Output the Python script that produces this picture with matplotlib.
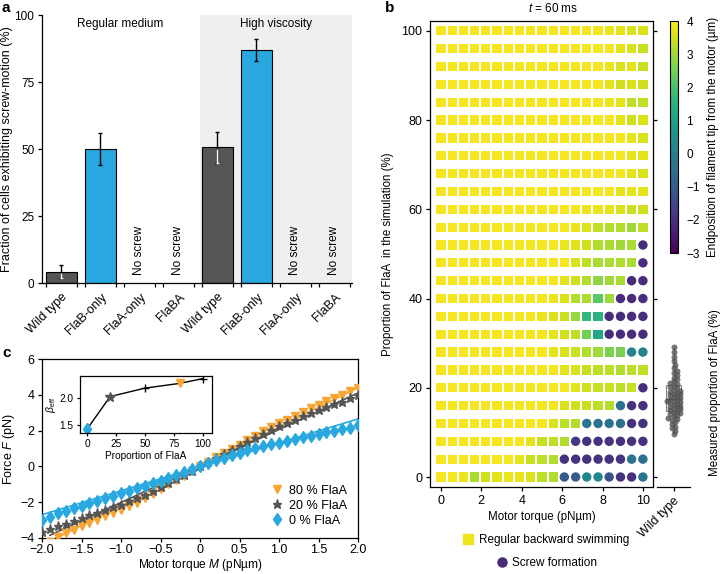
import numpy as np
import matplotlib.pyplot as plt
from matplotlib.lines import Line2D
from matplotlib import ticker

plt.rcParams['font.family'] = ['Liberation Sans', 'DejaVu Sans']
plt.rcParams['font.size'] = 9
plt.rcParams['mathtext.fontset'] = 'custom'
plt.rcParams['mathtext.rm'] = 'Liberation Sans'
plt.rcParams['mathtext.it'] = 'Liberation Sans:italic'
plt.rcParams['axes.linewidth'] = 0.9
plt.rcParams['xtick.major.width'] = 0.9
plt.rcParams['ytick.major.width'] = 0.9
plt.rcParams['xtick.major.size'] = 3
plt.rcParams['ytick.major.size'] = 3
plt.rcParams['xtick.major.pad'] = 2.5
plt.rcParams['ytick.major.pad'] = 2.5

# ---- panel a data
strains = ['Wild type', 'FlaB-only', 'FlaA-only', 'FlaBA',
           'Wild type', 'FlaB-only', 'FlaA-only', 'FlaBA']
screw_pct = [4.2, 50.1, np.nan, np.nan, 50.6, 87.0, np.nan, np.nan]
screw_err = [2.5, 5.9, np.nan, np.nan, 5.8, 4.0, np.nan, np.nan]
bar_cols = ['#555555', '#29a8e0', None, None, '#555555', '#29a8e0', None, None]

# ---- panel b data (rows from 100 % FlaA down to 0 %)
torque_sim = [0.0, 0.56, 1.11, 1.67, 2.22, 2.78, 3.33, 3.89, 4.44, 5.0,
              5.56, 6.11, 6.67, 7.22, 7.78, 8.33, 8.89, 9.44, 10.0]
flaA_sim = [100, 96, 92, 88, 84, 80, 76, 72, 68, 64, 60, 56, 52,
            48, 44, 40, 36, 32, 28, 24, 20, 16, 12, 8, 4, 0]
endpos = [
    [3.9, 3.9, 3.9, 3.9, 3.9, 3.9, 3.9, 3.9, 3.9, 3.9, 3.9, 3.9, 3.9, 3.9, 3.9, 3.8, 3.7, 3.6, 3.6],
    [3.9, 3.9, 3.9, 3.9, 3.9, 3.9, 3.9, 3.9, 3.9, 3.9, 3.9, 3.9, 3.9, 3.9, 3.9, 3.9, 3.7, 3.6, 3.4],
    [3.9, 3.9, 3.9, 3.9, 3.9, 3.9, 3.9, 3.9, 3.9, 3.9, 3.9, 3.9, 3.9, 3.9, 3.9, 3.8, 3.6, 3.7, 3.4],
    [3.9, 3.9, 3.9, 3.9, 3.9, 3.9, 3.9, 3.9, 3.9, 3.9, 3.9, 3.9, 3.9, 3.9, 3.9, 3.7, 3.5, 3.6, 3.5],
    [3.9, 3.9, 3.9, 3.9, 3.9, 3.9, 3.9, 3.9, 3.9, 3.9, 3.9, 3.9, 3.9, 3.9, 3.9, 3.8, 3.7, 3.3, 3.3],
    [3.9, 3.9, 3.9, 3.9, 3.9, 3.9, 3.9, 3.9, 3.9, 3.9, 3.9, 3.9, 3.9, 3.9, 3.9, 3.9, 3.7, 3.5, 3.6],
    [3.9, 3.9, 3.9, 3.9, 3.9, 3.9, 3.9, 3.9, 3.9, 3.9, 3.9, 3.9, 3.9, 3.9, 3.9, 3.9, 3.9, 3.7, 3.6],
    [3.9, 3.9, 3.9, 3.9, 3.9, 3.9, 3.9, 3.9, 3.9, 3.9, 3.9, 3.9, 3.9, 3.9, 3.9, 3.9, 3.9, 3.7, 3.7],
    [3.9, 3.9, 3.9, 3.9, 3.9, 3.9, 3.9, 3.9, 3.9, 3.9, 3.9, 3.9, 3.9, 3.9, 3.9, 3.9, 3.9, 3.7, 3.6],
    [3.9, 3.9, 3.9, 3.9, 3.9, 3.9, 3.9, 3.9, 3.9, 3.9, 3.9, 3.9, 3.9, 3.9, 3.9, 3.9, 3.7, 3.7, 3.7],
    [3.9, 3.9, 3.9, 3.9, 3.9, 3.9, 3.9, 3.9, 3.9, 3.9, 3.9, 3.9, 3.9, 3.8, 3.8, 3.7, 3.6, 3.4, 3.5],
    [3.9, 3.9, 3.9, 3.9, 3.9, 3.9, 3.9, 3.9, 3.9, 3.9, 3.9, 3.9, 3.8, 3.6, 3.3, 3.2, 3.2, 3.0, 3.3],
    [3.9, 3.9, 3.9, 3.9, 3.9, 3.9, 3.9, 3.9, 3.9, 3.9, 3.9, 3.8, 3.7, 3.5, 3.2, 3.1, 3.0, 3.1, -2.1],
    [3.9, 3.9, 3.9, 3.9, 3.9, 3.9, 3.9, 3.9, 3.9, 3.9, 3.9, 3.9, 3.6, 3.3, 3.1, 3.1, 3.2, 3.1, -2.1],
    [3.9, 3.9, 3.9, 3.9, 3.9, 3.9, 3.9, 3.9, 3.9, 3.9, 3.9, 3.7, 3.5, 3.2, 2.8, 3.0, 3.1, -2.1, -2.1],
    [3.9, 3.9, 3.9, 3.9, 3.9, 3.9, 3.9, 3.9, 3.9, 3.9, 3.8, 3.6, 3.2, 3.1, 2.2, 3.0, -2.1, -2.1, -2.1],
    [3.9, 3.9, 3.9, 3.9, 3.9, 3.9, 3.9, 3.9, 3.9, 3.8, 3.6, 3.4, 2.9, 1.6, 1.5, -2.1, -2.1, -2.1, -2.1],
    [3.9, 3.9, 3.9, 3.9, 3.9, 3.9, 3.9, 3.9, 3.9, 3.9, 3.7, 3.5, 3.3, 2.5, 1.2, -2.1, -2.1, -2.1, -2.1],
    [3.9, 3.9, 3.9, 3.9, 3.9, 3.9, 3.9, 3.9, 3.9, 3.9, 3.7, 3.6, 3.4, 3.2, 3.0, 2.6, 2.6, 0.1, 0.1],
    [3.9, 3.9, 3.9, 3.9, 3.9, 3.9, 3.9, 3.9, 3.9, 3.9, 3.9, 3.7, 3.6, 3.4, 3.3, 3.3, 3.2, 3.3, 3.3],
    [3.9, 3.9, 3.9, 3.9, 3.9, 3.9, 3.9, 3.9, 3.9, 3.9, 3.9, 3.9, 3.7, 3.5, 3.4, 3.4, 3.3, 3.4, -2.1],
    [3.9, 3.9, 3.9, 3.9, 3.9, 3.9, 3.9, 3.9, 3.9, 3.9, 3.9, 3.6, 3.5, 3.4, 3.3, 3.2, -0.4, -2.0, -2.0],
    [3.9, 3.9, 3.9, 3.9, 3.9, 3.9, 3.9, 3.9, 3.9, 3.9, 3.6, 3.3, 3.2, -0.4, -0.4, -0.4, -0.4, -2.0, -2.0],
    [3.9, 3.9, 3.9, 3.9, 3.9, 3.9, 3.9, 3.9, 3.7, 3.4, 3.3, 3.2, -1.8, -2.0, -2.0, -2.0, -2.0, -2.0, -2.0],
    [3.9, 3.9, 3.9, 3.9, 3.9, 3.9, 3.9, 3.7, 3.4, 3.3, 3.2, -2.0, -2.0, -2.0, -2.0, -2.0, -2.0, -0.4, -0.4],
    [3.9, 3.9, 3.8, 3.1, 3.5, 3.7, 3.8, 3.8, 3.6, 3.3, 3.2, -1.0, -1.0, 0.2, 0.2, -1.2, -2.0, -2.0, -0.3],
]
screw_cut = 0.8  # below this the tip has moved back -> screw formation

wt_flaA = [9.6, 10.3, 10.9, 11.3, 11.8, 12.3, 12.7, 13.0, 13.3, 13.6, 13.9, 14.1,
           14.3, 14.6, 14.8, 15.0, 15.2, 15.4, 15.6, 15.8, 16.0, 16.2, 16.4, 16.6,
           16.8, 17.0, 17.1, 17.3, 17.5, 17.7, 17.9, 18.1, 18.3, 18.5, 18.7, 18.9,
           19.1, 19.3, 19.6, 19.9, 20.2, 20.5, 20.8, 21.1, 21.5, 21.9, 22.3, 22.8,
           23.3, 23.8, 24.5, 25.2, 26.0, 27.0, 28.0, 29.2]

# ---- panel c data
torque = [-2.0, -1.9, -1.8, -1.7, -1.6, -1.5, -1.4, -1.3, -1.2, -1.1, -1.0,
          -0.9, -0.8, -0.7, -0.6, -0.5, -0.4, -0.3, -0.2, -0.1, 0.0,
          0.1, 0.2, 0.3, 0.4, 0.5, 0.6, 0.7, 0.8, 0.9, 1.0,
          1.1, 1.2, 1.3, 1.4, 1.5, 1.6, 1.7, 1.8, 1.9, 2.0]
force80 = [-4.45, -4.2, -3.95, -3.74, -3.54, -3.35, -3.16, -2.97, -2.78, -2.60, -2.42,
           -2.23, -2.02, -1.78, -1.52, -1.27, -1.01, -0.76, -0.51, -0.25, 0.0,
           0.25, 0.50, 0.74, 0.98, 1.22, 1.47, 1.72, 1.96, 2.18, 2.40,
           2.62, 2.83, 3.04, 3.24, 3.44, 3.63, 3.82, 4.01, 4.20, 4.40]
force20 = [-3.67, -3.50, -3.34, -3.19, -3.04, -2.89, -2.74, -2.59, -2.44, -2.29, -2.13,
           -1.96, -1.78, -1.58, -1.36, -1.14, -0.92, -0.69, -0.46, -0.23, 0.0,
           0.23, 0.46, 0.69, 0.92, 1.15, 1.38, 1.60, 1.82, 2.03, 2.23,
           2.42, 2.61, 2.79, 2.96, 3.13, 3.30, 3.46, 3.62, 3.80, 4.00]
force0 = [-2.98, -2.80, -2.63, -2.48, -2.34, -2.20, -2.06, -1.92, -1.78, -1.64, -1.50,
          -1.36, -1.22, -1.08, -0.94, -0.80, -0.65, -0.50, -0.34, -0.17, 0.0,
          0.17, 0.33, 0.48, 0.62, 0.76, 0.89, 1.01, 1.12, 1.23, 1.33,
          1.43, 1.53, 1.63, 1.72, 1.81, 1.90, 1.99, 2.08, 2.17, 2.30]
fit_x80, fit_y80 = [-2.0, 2.0], [-4.4, 4.4]
fit_x20, fit_y20 = [-1.9, 2.0], [-3.85, 4.1]
fit_x0, fit_y0 = [-2.0, 2.0], [-2.7, 2.65]

beta_x = [0, 20, 50, 80, 100]
beta_eff = [1.41, 2.03, 2.19, 2.28, 2.37]

gray = '#555555'
blue = '#29a8e0'
orange = '#f7a634'

fig = plt.figure(figsize=(7.2, 5.74), dpi=100)
W, H = 720.0, 574.0
def box(l, t, r, b):
    return [l / W, 1 - b / H, (r - l) / W, (b - t) / H]

# ================= panel a
ax_a = fig.add_axes(box(42, 15, 352, 283))
xpos = np.arange(len(strains))
ax_a.axvspan(3.55, 7.45, color='#efefef', lw=0, zorder=0)
for i in xpos:
    if np.isnan(screw_pct[i]):
        ax_a.text(i, 3, 'No screw', rotation=90, ha='center', va='bottom', fontsize=8.5)
        continue
    ax_a.bar(i, screw_pct[i], width=0.8, color=bar_cols[i], edgecolor='black', lw=0.8, zorder=2)
    ax_a.errorbar(i, screw_pct[i], yerr=screw_err[i], color='black', lw=1, capsize=1.5,
                  capthick=1, zorder=3)
    if bar_cols[i] == gray:
        lo = screw_pct[i] - screw_err[i]
        ax_a.vlines(i, lo, screw_pct[i] - 0.6, color='white', lw=1, zorder=4)
        ax_a.hlines(lo, i - 0.04, i + 0.04, color='white', lw=1, zorder=4)
ax_a.set_xlim(-0.5, 7.45)
ax_a.set_ylim(0, 100)
ax_a.set_yticks([0, 25, 50, 75, 100])
ax_a.tick_params(axis='y', labelsize=8.5)
ax_a.set_xticks(xpos)
ax_a.set_xticklabels(strains, rotation=45, ha='right', rotation_mode='anchor')
ax_a.tick_params(axis='x', length=0, pad=6)
ax_a.set_xticks(np.concatenate([xpos - 0.4, xpos + 0.4]), minor=True)
ax_a.tick_params(axis='x', which='minor', length=3, width=0.9)
ax_a.spines['top'].set_visible(False)
ax_a.spines['right'].set_visible(False)
ax_a.set_ylabel('Fraction of cells exhibiting screw-motion (%)', labelpad=1)
ax_a.text(1.5, 96.5, 'Regular medium', ha='center', va='center', fontsize=8.5)
ax_a.text(5.5, 96.5, 'High viscosity', ha='center', va='center', fontsize=8.5)

# ================= panel c
ax_c = fig.add_axes(box(42, 359, 358, 538))
ax_c.plot(fit_x80, fit_y80, color=orange, lw=1.2, zorder=2)
ax_c.plot(fit_x20, fit_y20, color=gray, lw=1.2, zorder=2)
ax_c.plot(fit_x0, fit_y0, color=blue, lw=1.2, zorder=2)
ax_c.plot(torque, force80, 'v', color=orange, ms=5.5, ls='none', label='80 % FlaA', zorder=3)
ax_c.plot(torque, force20, '*', color=gray, ms=6.5, ls='none', label='20 % FlaA', zorder=4)
ax_c.plot(torque, force0, 'd', color=blue, ms=6, ls='none', label='0 % FlaA', zorder=5)
ax_c.set_xlim(-2, 2)
ax_c.set_ylim(-4, 6)
ax_c.set_xticks(np.arange(-2, 2.01, 0.5))
ax_c.xaxis.set_major_formatter(ticker.FuncFormatter(
    lambda v, p: '0' if abs(v) < 1e-9 else ('%.1f' % v).replace('-', '\u2212')))
ax_c.set_yticks([-4, -2, 0, 2, 4, 6])
ax_c.tick_params(axis='x', pad=1.5)
ax_c.set_xlabel('Motor torque $M$ (pNµm)', labelpad=0.5, fontsize=8.6)
ax_c.set_ylabel('Force $F$ (pN)', labelpad=2)
ax_c.legend(loc='lower right', frameon=False, handletextpad=0.3, borderaxespad=0.5,
            labelspacing=0.25, handlelength=1.2)

ax_in = fig.add_axes(box(80, 376, 212, 433))
ax_in.plot(beta_x, beta_eff, color='black', lw=1, zorder=1)
ax_in.plot(beta_x[0], beta_eff[0], 'd', color=blue, ms=6)
ax_in.plot(beta_x[1], beta_eff[1], '*', color=gray, ms=7)
ax_in.plot(beta_x[2], beta_eff[2], '+', color='black', ms=6, mew=1)
ax_in.plot(beta_x[3], beta_eff[3], 'v', color=orange, ms=6)
ax_in.plot(beta_x[4], beta_eff[4], '+', color='black', ms=6, mew=1)
ax_in.set_xlim(-6, 108)
ax_in.set_ylim(1.34, 2.42)
ax_in.set_xticks([0, 25, 50, 75, 100])
ax_in.set_yticks([1.5, 2.0])
ax_in.tick_params(labelsize=7.3, length=2.5, pad=2)
ax_in.set_xlabel('Proportion of FlaA', fontsize=7.3, labelpad=1)
ax_in.set_ylabel(r'$\beta_{\rm eff}$', fontsize=7.5, labelpad=1)

# ================= panel b
ax_b = fig.add_axes(box(430, 21, 653, 487))
tx, fy = np.meshgrid(torque_sim, flaA_sim)
vals = np.array(endpos)
sq = vals >= screw_cut
sc = ax_b.scatter(tx[sq], fy[sq], c=vals[sq], marker='s', s=44, cmap='viridis',
                  vmin=-3, vmax=4, linewidths=0)
ax_b.scatter(tx[~sq], fy[~sq], c=vals[~sq], marker='o', s=46, cmap='viridis',
             vmin=-3, vmax=4, linewidths=0)
ax_b.set_xlim(-0.54, 10.5)
ax_b.set_ylim(-2.24, 102.2)
ax_b.set_xticks([0, 2, 4, 6, 8, 10])
ax_b.set_yticks([0, 20, 40, 60, 80, 100])
ax_b.tick_params(right=True)
ax_b.set_xlabel('Motor torque (pNµm)', labelpad=3, fontsize=8.3)
ax_b.set_ylabel('Proportion of FlaA  in the simulation (%)', labelpad=5, fontsize=8.3)
ax_b.text(0.55, 1.012, '$t$ = 60 ms', transform=ax_b.transAxes, ha='center', va='bottom',
          fontsize=8.5)

# wild-type measured proportion
ax_w = fig.add_axes(box(657, 299, 690, 487))
yl = ax_b.get_ylim()
ax_w.set_ylim(yl[0], yl[0] + (yl[1] - yl[0]) * 188.0 / 466.0)
ax_w.set_xlim(-1, 1)
ax_w.patch.set_visible(False)
for s in ['top', 'left', 'right']:
    ax_w.spines[s].set_visible(False)
ax_w.boxplot([wt_flaA], positions=[0], widths=0.85, whis=(0, 100), showcaps=False,
             patch_artist=True, boxprops=dict(facecolor='white', edgecolor='#777777', lw=0.7),
             medianprops=dict(color='#333333', lw=1), whiskerprops=dict(color='#777777', lw=0.7),
             zorder=1)
# simple beeswarm offsets (pixel space)
ypx = np.array(wt_flaA) * 466.0 / (yl[1] - yl[0])
placed = []
offs = []
for y in ypx:
    for k in [0, 1, -1, 2, -2, 3, -3, 4, -4]:
        x = k * 1.7
        if all((x - px) ** 2 + (y - py) ** 2 >= 3.2 ** 2 for px, py in placed):
            break
    placed.append((x, y))
    offs.append(x / 16.5)
ax_w.plot(offs, wt_flaA, 'o', color='#555555', ms=4.3, alpha=0.8, mec='none', zorder=3)
ax_w.set_xticks([0])
ax_w.set_xticklabels(['Wild type'], rotation=45, ha='right', rotation_mode='anchor')
ax_w.set_yticks([])
ax_w.yaxis.set_label_position('right')
ax_w.set_ylabel('Measured proportion of FlaA (%)', labelpad=14, fontsize=8.3)

cax = fig.add_axes(box(670, 21, 678, 253))
cb = fig.colorbar(sc, cax=cax, ticks=range(-3, 5))
cb.outline.set_linewidth(0.8)
cb.ax.tick_params(length=0, pad=6, labelsize=8.5)
cb.set_label('Endposition of filament tip from the motor (µm)', labelpad=5, fontsize=8.4)

h_sq = Line2D([], [], marker='s', ls='none', color=plt.cm.viridis(0.97), ms=6.5)
h_ci = Line2D([], [], marker='o', ls='none', color=plt.cm.viridis(0.12), ms=6.5)
fig.legend([h_sq], ['Regular backward swimming'], loc='center left',
           bbox_to_anchor=(456 / W, 1 - 540 / H), frameon=False, borderpad=0,
           handlelength=1.0, handletextpad=0.45, fontsize=8.5)
fig.legend([h_ci], ['Screw formation'], loc='center left',
           bbox_to_anchor=(490 / W, 1 - 563 / H), frameon=False, borderpad=0,
           handlelength=1.0, handletextpad=0.35, fontsize=8.5)

fig.text(2 / W, 1 - 1 / H, 'a', fontsize=11, fontweight='bold', va='top')
fig.text(385 / W, 1 - 1 / H, 'b', fontsize=11, fontweight='bold', va='top')
fig.text(2 / W, 1 - 346 / H, 'c', fontsize=11, fontweight='bold', va='top')

fig.savefig('out.png', dpi=100)
